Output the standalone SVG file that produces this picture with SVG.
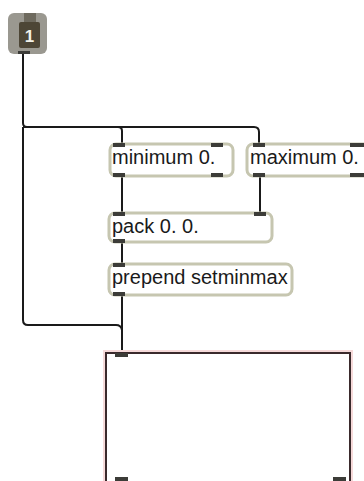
<svg xmlns="http://www.w3.org/2000/svg" width="364" height="481" viewBox="0 0 364 481">
<style>
.obj{fill:#ffffff;stroke:#c6c6b0;stroke-width:3}
.port{fill:#3c3c38}
.txt{font-family:"Liberation Sans",Arial,sans-serif;font-size:20px;fill:#1a1a1a}
.cord{fill:none;stroke:#1a1a1a;stroke-width:2;stroke-linejoin:round}
</style>
<rect width="364" height="481" fill="#ffffff"/>
<g id="connectors">
<path class="cord" d="M23,53 V123 Q23,127 27,127 H118 Q122,127 122,131 V144"/>
<path class="cord" d="M23,127 H254 Q259,127 259,132 V144"/>
<path class="cord" d="M122,176 V213"/>
<path class="cord" d="M260,176 V213"/>
<path class="cord" d="M122,242 V264"/>
<path class="cord" d="M23,127 V320 Q23,325 28,325 H116 Q121,325 122,330"/>
<path class="cord" d="M122,294 V354"/>
</g>
<g id="number">
<rect x="8" y="13" width="39" height="41" rx="6" fill="#9a9890"/>
<rect x="19" y="22" width="21" height="26" rx="2" fill="#4d4636"/>
<rect x="24" y="13" width="12" height="9" fill="#6e6a5e"/>
<text x="29.5" y="42" text-anchor="middle" font-family="Liberation Sans,Arial,sans-serif" font-weight="bold" font-size="17" fill="#f2f2ea">1</text>
<rect x="18" y="51" width="12" height="3" class="port"/>
</g>
<g id="minimum">
<rect class="obj" x="110" y="144" width="123" height="32" rx="6"/>
<rect class="port" x="113" y="143" width="12" height="4"/>
<rect class="port" x="211" y="143" width="12" height="4"/>
<rect class="port" x="113" y="173" width="12" height="4"/>
<rect class="port" x="211" y="173" width="12" height="4"/>
<text class="txt" x="112" y="164">minimum 0.</text>
</g>
<g id="maximum">
<rect class="obj" x="247" y="144" width="128" height="32" rx="6"/>
<rect class="port" x="253" y="143" width="12" height="4"/>
<rect class="port" x="350" y="143" width="14" height="4"/>
<rect class="port" x="253" y="173" width="12" height="4"/>
<rect class="port" x="350" y="173" width="14" height="4"/>
<text class="txt" x="250" y="164">maximum 0.</text>
</g>
<g id="pack">
<rect class="obj" x="109" y="213" width="163" height="29" rx="6"/>
<rect class="port" x="113" y="212" width="12" height="4"/>
<rect class="port" x="254" y="212" width="12" height="4"/>
<rect class="port" x="113" y="239" width="12" height="4"/>
<text class="txt" x="112" y="233">pack 0. 0.</text>
</g>
<g id="prepend">
<rect class="obj" x="109" y="264" width="183" height="31" rx="6"/>
<rect class="port" x="113" y="263" width="12" height="4"/>
<rect class="port" x="113" y="292" width="12" height="4"/>
<text class="txt" x="112" y="284">prepend setminmax</text>
</g>
<g id="multislider">
<rect x="106" y="353" width="244" height="132" fill="none" stroke="#f6dada" stroke-width="6"/>
<rect x="106" y="353" width="244" height="132" fill="#ffffff" stroke="#3a2a2c" stroke-width="2"/>
<rect class="port" x="115" y="353" width="13" height="4"/>
<rect class="port" x="115" y="477" width="13" height="4"/>
<rect class="port" x="333" y="477" width="13" height="4"/>
</g>
</svg>
